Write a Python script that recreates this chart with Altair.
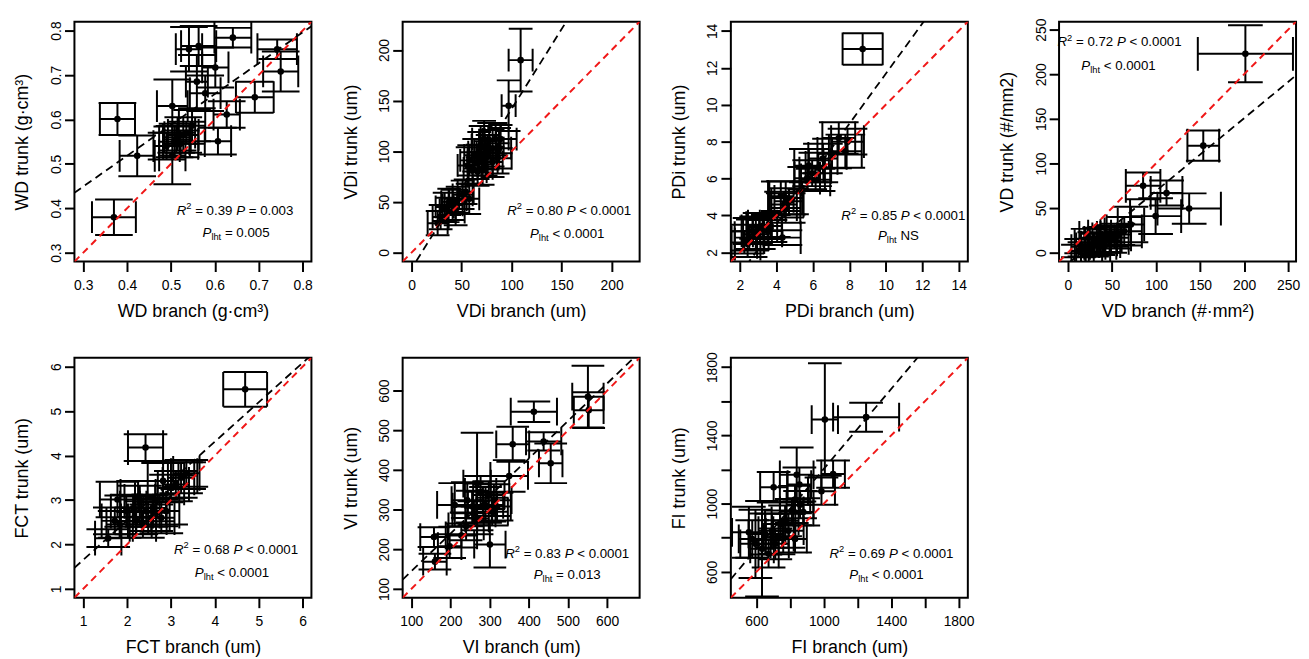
import altair as alt
import pandas as pd

FONT = "Liberation Sans"

# ---------------- data ----------------
# Panel 1: WD
wd_branch = [0.370, 0.378, 0.423, 0.503, 0.503, 0.508, 0.515, 0.522, 0.528, 0.548, 0.541, 0.563,
             0.641, 0.559, 0.601, 0.578, 0.607, 0.627, 0.691, 0.742, 0.750, 0.490, 0.535, 0.512]
wd_trunk = [0.380, 0.601, 0.518, 0.630, 0.519, 0.550, 0.560, 0.545, 0.565, 0.586, 0.758, 0.765,
            0.784, 0.685, 0.717, 0.659, 0.551, 0.611, 0.650, 0.758, 0.708, 0.540, 0.570, 0.555]
wd_branch_se = [0.050, 0.040, 0.040, 0.035, 0.030, 0.035, 0.030, 0.040, 0.035, 0.030, 0.030, 0.040,
                0.042, 0.025, 0.030, 0.035, 0.030, 0.030, 0.043, 0.045, 0.040, 0.030, 0.020, 0.030]
wd_trunk_se = [0.040, 0.036, 0.046, 0.060, 0.065, 0.035, 0.030, 0.030, 0.040, 0.035, 0.050, 0.045,
               0.022, 0.060, 0.045, 0.040, 0.030, 0.030, 0.035, 0.022, 0.045, 0.030, 0.025, 0.030]

# Panel 2: VDi
vdi_branch = [109, 97, 26, 33, 37.6, 41, 36, 46, 51, 54, 57.6, 44, 56, 61, 66, 67.6, 69, 72.5, 77.5,
              81, 84, 87.5, 81, 74, 66, 71, 86, 89, 62.6, 57.6, 76, 29]
vdi_trunk = [190, 145, 29, 45, 50, 47, 42, 52, 57, 60, 53, 40, 86, 83, 89.5, 99, 106, 112, 111,
             103, 112, 103, 89.5, 93, 80, 83, 93, 112, 96, 91, 99, 35]
vdi_branch_se = [12, 7, 10, 9, 8, 10, 8, 9, 10, 8, 10, 9, 10, 9, 10, 11, 9, 12, 10, 11, 13, 12, 10,
                 11, 9, 10, 14, 16, 10, 9, 11, 8]
vdi_trunk_se = [31, 25, 12, 14, 13, 15, 12, 13, 14, 12, 15, 13, 18, 16, 17, 20, 19, 18, 17, 18, 16,
                20, 15, 17, 14, 16, 15, 14, 16, 15, 17, 12]

# Panel 3: PDi
pdi_branch = [8.73, 7.42, 7.05, 6.55, 7.78, 5.78, 5.96, 6.15, 5.69, 4.51, 4.24, 4.51, 4.69, 4.42,
              3.24, 2.87, 2.51, 2.24, 2.69, 3.05, 3.51, 4.33, 2.42, 3.69, 7.90, 6.30]
pdi_trunk = [13.02, 8.20, 7.36, 7.09, 7.48, 6.70, 6.29, 5.93, 6.02, 4.95, 5.04, 4.41, 4.77, 4.59,
             3.43, 2.98, 2.80, 2.54, 3.16, 3.34, 3.16, 2.80, 2.45, 3.43, 8.00, 6.60]
pdi_branch_se = [1.1, 0.9, 0.8, 0.8, 0.9, 0.8, 0.7, 0.8, 0.7, 0.9, 0.7, 0.8, 0.8, 0.7, 0.8, 0.7,
                 0.8, 0.7, 0.6, 0.7, 0.8, 1.0, 0.7, 0.6, 0.9, 0.7]
pdi_trunk_se = [0.85, 0.85, 0.8, 0.8, 0.9, 0.9, 0.7, 0.6, 0.6, 0.9, 0.8, 0.8, 0.7, 0.7, 0.7, 0.8,
                0.7, 0.6, 0.7, 0.6, 0.6, 0.4, 0.7, 0.6, 0.7, 0.8]

# Panel 4: VD
vd_branch = [201.5, 153.7, 85.4, 112, 137.7, 99.6, 71.6, 23, 30.6, 41.8, 49, 56.7, 15.7, 19.4,
             26.9, 34, 40, 47.4, 53, 64, 12, 36]
vd_trunk = [223, 120, 75, 67, 49.5, 41, 31.6, 16.7, 11, 14.9, 18.6, 20.5, 7.4, 3.7, 5.6, 9.3,
            11, 13, 16.7, 24, 1.9, 18]
vd_branch_se = [54, 18, 19.6, 18, 36, 29, 15, 10, 12, 14, 12, 15, 8, 10, 12, 14, 15, 12, 16, 20, 8, 13]
vd_trunk_se = [32, 17, 15, 14, 17, 20, 20, 10, 12, 14, 12, 12, 8, 8, 10, 12, 11, 13, 12, 16, 7, 10]

# Panel 5: FCT
fct_branch = [4.69, 2.42, 2.82, 3.00, 3.23, 3.35, 3.11, 1.78, 1.98, 2.21, 2.36, 2.44, 2.55, 2.67,
              2.78, 1.83, 1.72, 1.57, 2.14, 2.29, 2.59, 2.89, 2.25, 3.30]
fct_trunk = [5.49, 4.18, 3.43, 3.27, 3.50, 3.60, 3.35, 3.01, 2.75, 2.53, 2.45, 2.75, 2.60, 2.71,
             2.60, 2.45, 2.53, 2.14, 2.82, 2.97, 2.82, 2.75, 3.08, 3.55]
fct_branch_se = [0.50, 0.40, 0.35, 0.30, 0.30, 0.30, 0.30, 0.40, 0.35, 0.35, 0.30, 0.30, 0.35, 0.30,
                 0.30, 0.30, 0.30, 0.30, 0.30, 0.35, 0.30, 0.30, 0.40, 0.30]
fct_trunk_se = [0.39, 0.30, 0.40, 0.30, 0.35, 0.30, 0.30, 0.40, 0.35, 0.30, 0.30, 0.35, 0.30, 0.30,
                0.35, 0.30, 0.30, 0.20, 0.30, 0.35, 0.30, 0.30, 0.35, 0.30]

# Panel 6: VI
vi_branch = [551, 553, 413, 438, 456, 359, 350, 300.7, 160.4, 158, 198, 228, 240, 211, 243, 255.6,
             268, 277, 289.6, 298, 311, 319, 268, 260, 306.6]
vi_trunk = [585, 551, 547, 472, 417, 465, 385, 212, 169, 231, 208, 235, 258, 312, 324, 308, 366,
            345, 312, 337, 324, 308, 278, 291, 295]
vi_branch_se = [40, 38, 59, 45, 30, 42, 48, 40, 30, 35, 30, 40, 45, 45, 40, 50, 35, 40, 45, 40, 45,
                35, 30, 55, 40]
vi_trunk_se = [78, 45, 26, 23, 50, 44, 40, 58, 20, 25, 30, 30, 35, 55, 45, 40, 128, 40, 45, 35, 40,
               35, 30, 30, 35]

# Panel 7: FI
fi_branch = [1251, 1006, 1055, 986, 839, 702, 855, 878, 829, 859, 810, 741, 770, 790, 829, 692, 653,
             555, 594, 633, 672, 712, 575, 731]
fi_trunk = [1507, 1493, 1173, 1073, 1169, 1096, 1112, 951, 1024, 994, 957, 880, 899, 841, 793, 841,
            822, 832, 764, 735, 706, 764, 793, 803]
fi_branch_se = [196, 78, 70, 80, 100, 80, 70, 60, 90, 80, 70, 90, 80, 90, 70, 80, 100, 100, 90, 70,
                60, 80, 80, 90]
fi_trunk_se = [85, 330, 80, 80, 160, 90, 100, 80, 80, 80, 70, 80, 90, 100, 80, 100, 120, 150, 200,
               280, 80, 90, 110, 100]

# fitted regression lines (intercept, slope)
reg_intercept = [0.2407, -15.76, -1.89, -12.3, 0.765, 50.1, 33.0]
reg_slope = [0.694, 1.576, 1.357, 0.815, 0.887, 0.947, 1.171]

# axis domains and tick values
axis_domain = [[0.28, 0.82], [-9, 228], [1.5, 14.5], [-10, 259], [0.8, 6.2], [78, 683], [448, 1855]]
axis_ticks = [[0.3, 0.4, 0.5, 0.6, 0.7, 0.8], [0, 50, 100, 150, 200], [2, 4, 6, 8, 10, 12, 14],
              [0, 50, 100, 150, 200, 250], [1, 2, 3, 4, 5, 6], [100, 200, 300, 400, 500, 600],
              [600, 800, 1000, 1200, 1400, 1600, 1800]]
axis_format = [".1f", "d", "d", "d", "d", "d", "d"]

x_titles = ["WD branch (g\u00b7cm\u00b3)", "VDi branch (um)", "PDi branch (um)",
            "VD branch (#\u00b7mm\u00b2)", "FCT branch (um)", "VI branch (um)", "FI branch (um)"]
y_titles = ["WD trunk (g\u00b7cm\u00b3)", "VDi trunk (um)", "PDi trunk (um)", "VD trunk (#/mm2)",
            "FCT trunk (um)", "VI trunk (um)", "FI trunk (um)"]

r2_text = ["0.39", "0.80", "0.85", "0.72", "0.68", "0.83", "0.69"]
p_text = ["= 0.003", "< 0.0001", "< 0.0001", "< 0.0001", "< 0.0001", "< 0.0001", "< 0.0001"]
plht_text = ["= 0.005", "< 0.0001", "NS", "< 0.0001", "< 0.0001", "= 0.013", "< 0.0001"]

# annotation centres (pixels inside plot area): line1 cx, cy, line2 cx, cy
ann_pos = [(162, 190, 163, 212), (168, 190, 166, 213), (174, 195, 169, 215), (61, 20, 60, 44),
           (163, 193, 159, 216), (166, 197, 166, 218), (162, 197, 157, 218)]
# error-bar cap lengths in px: (cap on vertical bars, cap on horizontal bars)
cap_px = [(38, 32), (24, 23), (40, 33), (35, 34), (44, 35), (33, 28), (34, 29)]

W, H = 239, 242
FS_ANN = 13.4

# ---------------- helpers ----------------
CW = {' ': 278, '.': 278, '=': 584, '<': 584, 'R': 722, 'P': 667, 'N': 722, 'S': 667,
      'l': 222, 'h': 556, 't': 278}
for _d in "0123456789":
    CW[_d] = 556


def tw(s, fs):
    return sum(CW.get(c, 556) for c in s) * fs / 1000.0


def line_items(cx, cy, parts, fs):
    sizes = [fs * 0.7 if k in ("sup", "sub") else fs for _, k in parts]
    widths = [tw(t, s) for (t, _), s in zip(parts, sizes)]
    x = cx - sum(widths) / 2.0
    base = cy + 0.36 * fs
    out = []
    for (t, k), s, w in zip(parts, sizes, widths):
        lead = len(t) - len(t.lstrip(" "))
        dy = -0.42 * fs if k == "sup" else (0.25 * fs if k == "sub" else 0)
        out.append(dict(x=x + tw(" " * lead, s), y=base + dy, t=t.strip(), s=s, it=(k == "it")))
        x += w
    return out


def text_layer(it):
    return alt.Chart(pd.DataFrame({"t": [it["t"]]})).mark_text(
        align="left", baseline="alphabetic", font=FONT, fontSize=it["s"],
        fontStyle="italic" if it["it"] else "normal", color="black"
    ).encode(x=alt.value(it["x"]), y=alt.value(it["y"]), text="t:N")


def make_panel(i, bx, by, bxe, bye):
    lo, hi = axis_domain[i]
    sc = alt.Scale(domain=[lo, hi], nice=False, zero=False)
    lab_expr = "datum.value % 400 == 200 ? datum.label : ''" if i == 6 else "datum.label"
    common = dict(values=axis_ticks[i], format=axis_format[i], grid=False, domain=False,
                  tickSize=10, tickWidth=2, tickColor="black", labelFont=FONT, labelFontSize=14,
                  labelColor="black", labelFlush=False, labelOverlap=False, labelBound=False,
                  labelExpr=lab_expr, titleFont=FONT, titleFontSize=18, titleFontWeight="normal",
                  titleColor="black")
    ax_x = alt.Axis(title=x_titles[i], labelPadding=7, titlePadding=10, **common)
    ax_y = alt.Axis(title=y_titles[i], labelAngle=270, labelAlign="center", labelBaseline="bottom",
                    labelPadding=1, titlePadding=18, **common)

    def X(f):
        return alt.X(f, type="quantitative", scale=sc, axis=ax_x)

    def Y(f):
        return alt.Y(f, type="quantitative", scale=sc, axis=ax_y)

    df = pd.DataFrame({"x": bx, "y": by, "xe": bxe, "ye": bye})
    df["xlo"] = df.x - df.xe
    df["xhi"] = df.x + df.xe
    df["ylo"] = df.y - df.ye
    df["yhi"] = df.y + df.ye
    hc = pd.DataFrame({"x": list(df.xlo) + list(df.xhi), "y": list(df.y) * 2})
    vc = pd.DataFrame({"x": list(df.x) * 2, "y": list(df.ylo) + list(df.yhi)})
    cap_h, cap_v = cap_px[i]
    sw = 2.0

    hbar = alt.Chart(df).mark_rule(color="black", strokeWidth=sw, clip=True).encode(
        x=X("xlo"), x2="xhi", y=Y("y"))
    vbar = alt.Chart(df).mark_rule(color="black", strokeWidth=sw, clip=True).encode(
        x=X("x"), y=Y("ylo"), y2="yhi")
    hcap = alt.Chart(hc).mark_tick(orient="vertical", size=cap_v, thickness=sw, color="black",
                                   opacity=1, clip=True).encode(x=X("x"), y=Y("y"))
    vcap = alt.Chart(vc).mark_tick(orient="horizontal", size=cap_h, thickness=sw, color="black",
                                   opacity=1, clip=True).encode(x=X("x"), y=Y("y"))
    pts = alt.Chart(df).mark_circle(color="black", opacity=1, size=44, clip=True).encode(
        x=X("x"), y=Y("y"))

    one = pd.DataFrame({"x": [lo, hi], "y": [lo, hi]})
    a, b = reg_intercept[i], reg_slope[i]
    reg = pd.DataFrame({"x": [lo, hi], "y": [a + b * lo, a + b * hi]})
    l11 = alt.Chart(one).mark_line(color="#f01818", strokeWidth=2, strokeDash=[7, 5],
                                   clip=True).encode(x=X("x"), y=Y("y"))
    lrg = alt.Chart(reg).mark_line(color="black", strokeWidth=1.8, strokeDash=[8, 5],
                                   clip=True).encode(x=X("x"), y=Y("y"))

    c1x, c1y, c2x, c2y = ann_pos[i]
    items = line_items(c1x, c1y, [("R", "it"), ("2", "sup"), (" = " + r2_text[i] + " ", "rm"),
                                  ("P", "it"), (" " + p_text[i], "rm")], FS_ANN)
    items += line_items(c2x, c2y, [("P", "it"), ("lht", "sub"), (" " + plht_text[i], "rm")], FS_ANN)
    texts = [text_layer(it) for it in items]

    return alt.layer(hbar, vbar, hcap, vcap, pts, l11, lrg, *texts).properties(width=W, height=H)


series = [(wd_branch, wd_trunk, wd_branch_se, wd_trunk_se),
          (vdi_branch, vdi_trunk, vdi_branch_se, vdi_trunk_se),
          (pdi_branch, pdi_trunk, pdi_branch_se, pdi_trunk_se),
          (vd_branch, vd_trunk, vd_branch_se, vd_trunk_se),
          (fct_branch, fct_trunk, fct_branch_se, fct_trunk_se),
          (vi_branch, vi_trunk, vi_branch_se, vi_trunk_se),
          (fi_branch, fi_trunk, fi_branch_se, fi_trunk_se)]

panels = [make_panel(i, *s) for i, s in enumerate(series)]

chart = alt.ConcatChart(
    concat=panels, columns=4, bounds="flush",
    spacing=alt.RowColnumber(row=97, column=92),
    padding={"left": 5, "top": 6, "right": 0, "bottom": 0},
    background="white",
).configure_view(stroke="black", strokeWidth=2)

chart.save("out.html", embed_options={"renderer": "svg", "actions": False})
